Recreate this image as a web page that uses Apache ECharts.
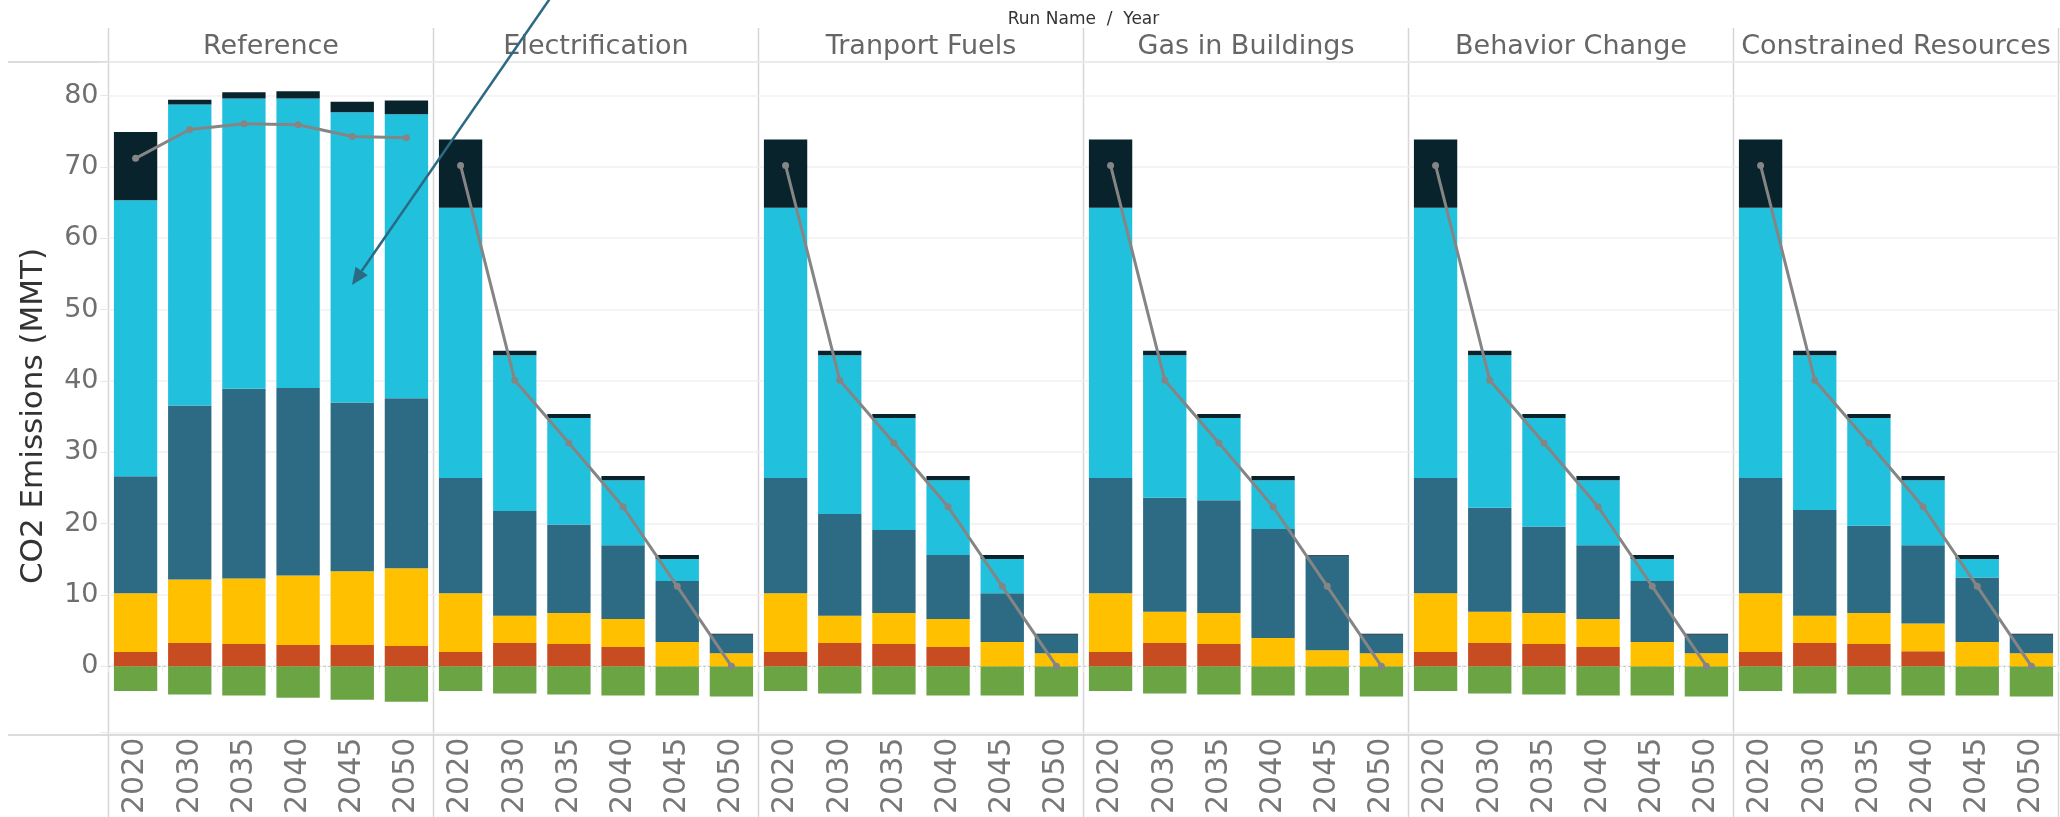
<!DOCTYPE html>
<html>
<head>
<meta charset="utf-8">
<script src="https://cdn.jsdelivr.net/npm/echarts@6/dist/echarts.min.js"></script>
<style>
  html, body { margin: 0; padding: 0; background: #fff; }
  #main { width: 2060px; height: 817px; }
</style>
</head>
<body>
<div id="main"></div>
<script>
var scenarios = ['Reference', 'Electrification', 'Tranport Fuels', 'Gas in Buildings', 'Behavior Change', 'Constrained Resources'];
var years = ['2020', '2030', '2035', '2040', '2045', '2050'];
var yTicks = [0, 10, 20, 30, 40, 50, 60, 70, 80];

// one row per scenario, one value per year (MMT CO2), bottom of the stack first
var landSink = [
  [-3.49, -3.96, -4.10, -4.43, -4.71, -4.99],
  [-3.49, -3.82, -3.96, -4.10, -4.10, -4.24],
  [-3.49, -3.82, -3.96, -4.10, -4.10, -4.24],
  [-3.49, -3.82, -3.96, -4.10, -4.10, -4.24],
  [-3.49, -3.82, -3.96, -4.10, -4.10, -4.24],
  [-3.49, -3.82, -3.96, -4.10, -4.10, -4.24]
];
var industry = [
  [2.00, 3.26, 3.12, 2.98, 2.98, 2.84],
  [2.00, 3.26, 3.12, 2.70, 0, 0],
  [2.00, 3.26, 3.12, 2.70, 0, 0],
  [2.00, 3.26, 3.12, 0, 0, 0],
  [2.00, 3.26, 3.12, 2.70, 0, 0],
  [2.00, 3.26, 3.12, 2.09, 0, 0]
];
var buildings = [
  [8.24, 8.89, 9.17, 9.73, 10.33, 10.89],
  [8.24, 3.81, 4.33, 3.91, 3.40, 1.81],
  [8.24, 3.81, 4.33, 3.91, 3.40, 1.81],
  [8.24, 4.37, 4.33, 3.96, 2.23, 1.81],
  [8.24, 4.37, 4.33, 3.91, 3.40, 1.81],
  [8.24, 3.81, 4.33, 3.91, 3.40, 1.81]
];
var electricity = [
  [16.39, 24.40, 26.59, 26.31, 23.66, 23.85],
  [16.16, 14.67, 12.41, 10.34, 8.56, 2.61],
  [16.16, 14.25, 11.64, 8.99, 6.84, 2.61],
  [16.16, 15.97, 15.83, 15.27, 13.27, 2.61],
  [16.16, 14.57, 12.15, 10.34, 8.56, 2.61],
  [16.16, 14.83, 12.25, 10.95, 9.03, 2.61]
];
var transport = [
  [38.70, 42.20, 40.70, 40.56, 40.71, 39.82],
  [37.86, 21.86, 14.94, 9.12, 3.06, 0],
  [37.86, 22.28, 15.71, 10.47, 4.78, 0],
  [37.86, 20.00, 11.52, 6.84, 0, 0],
  [37.86, 21.40, 15.20, 9.12, 3.06, 0],
  [37.86, 21.70, 15.10, 9.12, 2.59, 0]
];
var other = [
  [9.55, 0.65, 0.89, 1.03, 1.44, 1.90],
  [9.60, 0.64, 0.57, 0.59, 0.58, 0.14],
  [9.60, 0.64, 0.57, 0.59, 0.58, 0.14],
  [9.60, 0.64, 0.57, 0.59, 0.10, 0.14],
  [9.60, 0.64, 0.57, 0.59, 0.58, 0.14],
  [9.60, 0.64, 0.57, 0.59, 0.58, 0.14]
];
var netEmissions = [
  [71.2, 75.25, 76.05, 75.9, 74.27, 74.09],
  [70.2, 40.1, 31.3, 22.35, 11.2, 0],
  [70.2, 40.1, 31.3, 22.35, 11.2, 0],
  [70.2, 40.1, 31.3, 22.35, 11.2, 0],
  [70.2, 40.1, 31.3, 22.35, 11.2, 0],
  [70.2, 40.1, 31.3, 22.35, 11.2, 0]
];

var parts = [
  { name: 'Land Sink', data: landSink, color: '#6aa443' },
  { name: 'Industry', data: industry, color: '#c84c21' },
  { name: 'Buildings', data: buildings, color: '#ffc000' },
  { name: 'Electricity', data: electricity, color: '#2d6a83' },
  { name: 'Transportation', data: transport, color: '#21c1de' },
  { name: 'Other', data: other, color: '#08232c' }
];

// layout of the tableau-like panel grid
var PANEL_LEFT = 108.5, PANEL_W = 325, PLOT_TOP = 62, PLOT_BOTTOM = 735;
var FONT = '"DejaVu Sans", sans-serif';

var chartDom = document.getElementById('main');
var myChart = echarts.init(chartDom);

var grids = [], xAxes = [], yAxes = [], series = [];

scenarios.forEach(function (sc, i) {
  grids.push({
    left: PANEL_LEFT + i * PANEL_W,
    top: PLOT_TOP,
    width: PANEL_W,
    height: PLOT_BOTTOM - PLOT_TOP
  });
  xAxes.push({
    type: 'category',
    gridIndex: i,
    data: years,
    position: 'bottom',
    axisLine: { show: false },
    axisTick: { show: true, length: 6, lineStyle: { color: '#ebebeb' } },
    axisLabel: { interval: 0, rotate: 90, margin: 5, fontFamily: FONT, fontSize: 30, color: '#777' }
  });
  yAxes.push({
    type: 'value',
    gridIndex: i,
    min: -9.32,
    max: 84.71,
    splitNumber: 9,
    axisLine: { show: false },
    axisTick: { show: i === 0, length: 8, lineStyle: { color: '#e6e6e6' } },
    axisLabel: {
      show: i === 0,
      margin: 10,
      fontFamily: FONT,
      fontSize: 27,
      color: '#6f6f6f',
      formatter: function (v) {
        var r = Math.round(v * 100) / 100;
        return yTicks.indexOf(r) >= 0 ? String(r) : '';
      }
    },
    splitLine: { lineStyle: { color: '#f0f0f0', width: 1.5 } }
  });

  parts.forEach(function (p, k) {
    var s = {
      name: p.name,
      type: 'bar',
      xAxisIndex: i,
      yAxisIndex: i,
      stack: 'panel' + i,
      barCategoryGap: '20%',
      itemStyle: { color: p.color },
      data: p.data[i]
    };
    if (k === 0) {
      s.markLine = {
        silent: true,
        z: 1,
        symbol: 'none',
        label: { show: false },
        lineStyle: { type: [2, 3], color: '#bdbdbd', width: 1 },
        data: [{ yAxis: 0 }]
      };
    }
    series.push(s);
  });

  series.push({
    name: 'Net Emissions',
    type: 'line',
    xAxisIndex: i,
    yAxisIndex: i,
    z: 5,
    symbol: 'circle',
    symbolSize: 7,
    lineStyle: { color: '#858585', width: 3 },
    itemStyle: { color: '#858585' },
    data: netEmissions[i]
  });
});

// frame, headers and annotation
var graphics = [];
graphics.push({ type: 'line', shape: { x1: 8, y1: PLOT_TOP, x2: 2060, y2: PLOT_TOP }, style: { stroke: '#dcdcdc', lineWidth: 2 } });
graphics.push({ type: 'line', shape: { x1: 8, y1: PLOT_BOTTOM, x2: 2060, y2: PLOT_BOTTOM }, style: { stroke: '#dcdcdc', lineWidth: 2 } });
for (var j = 0; j <= scenarios.length; j++) {
  var vx = PANEL_LEFT + j * PANEL_W;
  graphics.push({ type: 'line', shape: { x1: vx, y1: 28, x2: vx, y2: 817 }, style: { stroke: '#d6d6d6', lineWidth: 1.5 } });
}
scenarios.forEach(function (sc, i) {
  graphics.push({
    type: 'text',
    x: PANEL_LEFT + i * PANEL_W + PANEL_W / 2,
    y: 47,
    style: { text: sc, font: '27px ' + FONT, fill: '#666', textAlign: 'center', textVerticalAlign: 'middle', align: 'center', verticalAlign: 'middle' }
  });
});
graphics.push({
  type: 'text',
  x: (PANEL_LEFT + PANEL_LEFT + scenarios.length * PANEL_W) / 2,
  y: 20,
  style: { text: 'Run Name  /  Year', font: '17px ' + FONT, fill: '#333', textAlign: 'center', textVerticalAlign: 'middle', align: 'center', verticalAlign: 'middle' }
});
graphics.push({
  type: 'text',
  x: 34,
  y: 416,
  rotation: Math.PI / 2,
  style: { text: 'CO2 Emissions (MMT)', font: '31px ' + FONT, fill: '#333', textAlign: 'center', textVerticalAlign: 'middle', align: 'center', verticalAlign: 'middle' }
});

// annotation arrow pointing into the Reference panel, drawn above the bars
var tip = [352, 285], tail = [560, -16];
var dx = tail[0] - tip[0], dy = tail[1] - tip[1];
var len = Math.sqrt(dx * dx + dy * dy);
var ux = dx / len, uy = dy / len;
var headLen = 17, headHalf = 7.5;
var base = [tip[0] + ux * headLen, tip[1] + uy * headLen];
graphics.push({ type: 'line', z: 100, shape: { x1: tail[0], y1: tail[1], x2: base[0], y2: base[1] }, style: { stroke: '#2b6a82', lineWidth: 2.5 } });
graphics.push({
  type: 'polygon',
  z: 100,
  shape: { points: [tip, [base[0] - uy * headHalf, base[1] + ux * headHalf], [base[0] + uy * headHalf, base[1] - ux * headHalf]] },
  style: { fill: '#2b6a82' }
});

var option = {
  animation: false,
  backgroundColor: '#fff',
  grid: grids,
  xAxis: xAxes,
  yAxis: yAxes,
  series: series,
  graphic: { elements: graphics }
};

option && myChart.setOption(option);
</script>
</body>
</html>
